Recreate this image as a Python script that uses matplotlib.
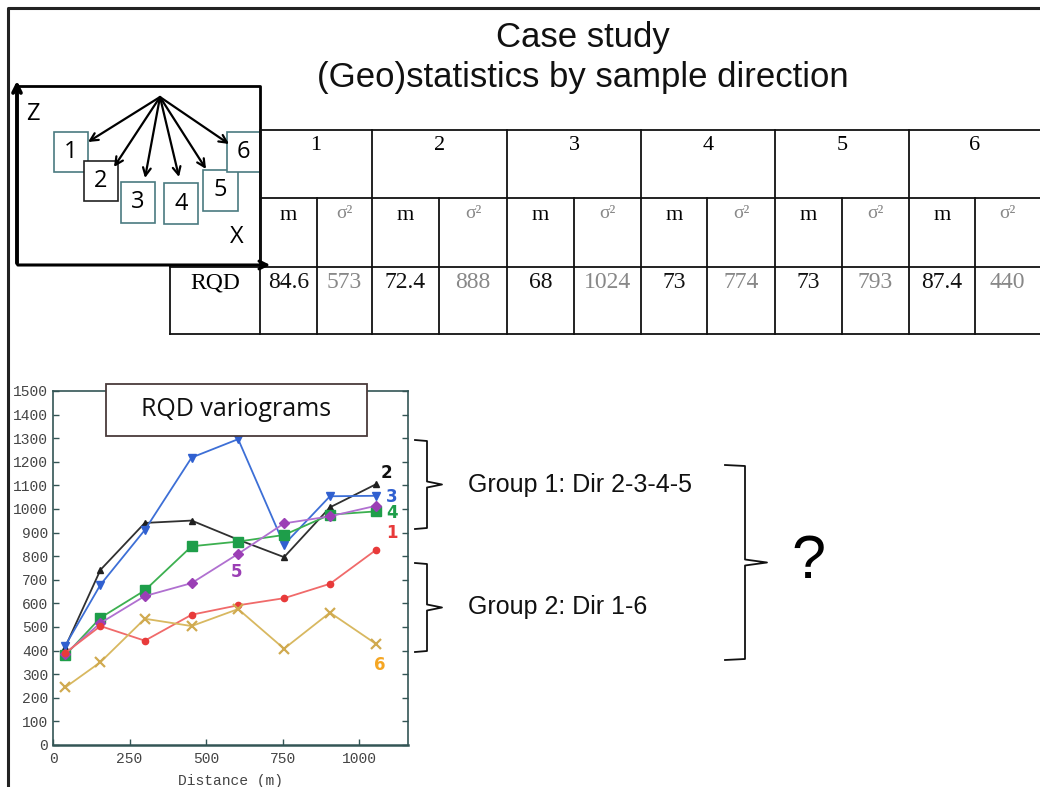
import matplotlib
matplotlib.use("Agg")
import matplotlib.pyplot as plt
from matplotlib.patches import Rectangle

# ---------------- data ----------------
distance = [40, 155, 300, 453, 605, 755, 905, 1057]
dir1 = [390, 504, 442, 552, 592, 622, 683, 828]
dir2 = [415, 742, 941, 951, 870, 796, 1007, 1106]
dir3 = [421, 679, 911, 1218, 1296, 849, 1054, 1056]
dir4 = [380, 539, 655, 842, 862, 890, 976, 990]
dir5 = [387, 517, 631, 686, 810, 939, 969, 1014]
dir6 = [244, 351, 535, 504, 576, 408, 561, 427]

directions = ['1', '2', '3', '4', '5', '6']
rqd_mean = ['84.6', '72.4', '68', '73', '73', '87.4']
rqd_var = ['573', '888', '1024', '774', '793', '440']

y_ticks = list(range(0, 1600, 100))
x_ticks = [0, 250, 500, 750, 1000]

W, H = 1040, 787
fig = plt.figure(figsize=(W / 100, H / 100), dpi=100)
fig.patch.set_facecolor('white')

# ---------------- variogram chart ----------------
L, R, T, B = 53, 408, 391, 745
ax = fig.add_axes([L / W, 1 - B / H, (R - L) / W, (B - T) / H])
ax.set_xlim(0, 1160)
ax.set_ylim(0, 1500)

series = [
    (dir2, '#303030', '#202020', '^', 4.5),
    (dir3, '#3d6fd6', '#3060d0', 'v', 5.5),
    (dir4, '#3cb050', '#1e9e4a', 's', 7.5),
    (dir5, '#b070d0', '#9b3fb5', 'D', 5.5),
    (dir1, '#f06a6a', '#e83a3a', 'o', 4.5),
    (dir6, '#d8b860', '#d0aa50', 'x', 7),
]
for vals, lc, mc, mk, ms in series:
    ax.plot(distance, vals, color=lc, lw=1.3, marker=mk, ms=ms,
            markerfacecolor=mc, markeredgecolor=mc, mew=1.6 if mk == 'x' else 1)

lab_kw = dict(fontsize=12, fontweight='bold', ha='center', va='center')
ax.text(1088, 1152, '2', color='#111111', **lab_kw)
ax.text(1107, 1051, '3', color='#3060d0', **lab_kw)
ax.text(1107, 983, '4', color='#1e9e4a', **lab_kw)
ax.text(1107, 898, '1', color='#e83a3a', **lab_kw)
ax.text(598, 733, '5', color='#9b3fb5', **lab_kw)
ax.text(1069, 339, '6', color='#f5a623', **lab_kw)

ax.set_xticks(x_ticks)
ax.set_yticks(y_ticks)
ax.tick_params(direction='in', length=4, width=1, colors='#335555',
               labelcolor='#444444', right=True, top=False, labelsize=10.5)
ax.tick_params(axis='x', pad=5)
for lab in ax.get_xticklabels() + ax.get_yticklabels():
    lab.set_family('Liberation Mono')
ax.set_xlabel('Distance (m)', family='Liberation Mono', fontsize=10.5,
              color='#444444', labelpad=6)
for s in ax.spines.values():
    s.set_color('#335555')
    s.set_linewidth(1.2)
ax.spines['bottom'].set_linewidth(1.8)

# ---------------- overlay in pixel coords ----------------
ov = fig.add_axes([0, 0, 1, 1], zorder=10)
ov.set_xlim(0, W)
ov.set_ylim(H, 0)
ov.axis('off')
ov.patch.set_alpha(0)

# slide border
ov.plot([8, 8, W], [H, 8, 8], color='#222222', lw=2.2, solid_capstyle='butt')

# title
ov.text(583, 38, 'Case study', fontsize=25, family='Liberation Sans',
        ha='center', va='center', color='#111111')
ov.text(583, 78, '(Geo)statistics by sample direction', fontsize=25,
        family='Liberation Sans', ha='center', va='center', color='#111111')

# diagram frame and axes arrows
ov.plot([17, 260, 260], [86, 86, 265], color='black', lw=2)
ov.annotate('', xy=(17, 78), xytext=(17, 266),
            arrowprops=dict(arrowstyle='->', lw=2.8, color='black', mutation_scale=14))
ov.annotate('', xy=(273, 265), xytext=(15, 265),
            arrowprops=dict(arrowstyle='->', lw=2.2, color='black', mutation_scale=14))
ov.text(33, 114, 'Z', fontsize=17, family='Open Sans', ha='center', va='center')
ov.text(237, 237, 'X', fontsize=17, family='Open Sans', ha='center', va='center')

boxes = [(54, 132, 34, 40, '#4a7a80'), (84, 161, 34, 40, '#222222'),
         (121, 182, 34, 41, '#4a7a80'), (164, 183, 34, 41, '#4a7a80'),
         (203, 170, 35, 41, '#4a7a80'), (227, 132, 33, 40, '#4a7a80')]
for (bx, by, bw, bh, ec), d in zip(boxes, directions):
    ov.add_patch(Rectangle((bx, by), bw, bh, fill=True, facecolor='white',
                           edgecolor=ec, lw=1.2))
    ov.text(bx + bw / 2, by + bh / 2, d, fontsize=17, family='Open Sans',
            ha='center', va='center')
origin = (160, 97)
tips = [(88, 142), (114, 167), (145, 178), (179, 177), (206, 169), (229, 144)]
for tip in tips:
    ov.annotate('', xy=tip, xytext=origin,
                arrowprops=dict(arrowstyle='->', lw=1.6, color='black',
                                mutation_scale=14, shrinkA=0, shrinkB=0))

# table
tl = dict(color='#111111', lw=1.3)
ov.plot([260, W], [130, 130], **tl)
ov.plot([260, W], [198, 198], **tl)
ov.plot([170, W], [267, 267], **tl)
ov.plot([170, W], [334, 334], **tl)
ov.plot([170, 170], [267, 334], **tl)
groups = [260, 372, 507, 641, 775, 909]
subs = [317, 439, 574, 707, 842, 975]
for gx in groups:
    ov.plot([gx, gx], [130, 334], **tl)
for sx in subs:
    ov.plot([sx, sx], [198, 334], **tl)
edges = groups + [W]
serif = 'Liberation Serif'
ov.text(215, 283, 'RQD', fontsize=17, family=serif, ha='center', va='center')
for i, d in enumerate(directions):
    g0, g1, sx = edges[i], edges[i + 1], subs[i]
    ov.text((g0 + g1) / 2, 145, d, fontsize=16, family=serif, ha='center', va='center')
    ov.text((g0 + sx) / 2, 215, 'm', fontsize=16, family=serif, ha='center', va='center')
    ov.text((sx + g1) / 2, 214, 'σ²', fontsize=14, family=serif, ha='center',
            va='center', color='#888888')
    ov.text((g0 + sx) / 2, 282, rqd_mean[i], fontsize=17, family=serif,
            ha='center', va='center', color='#111111')
    ov.text((sx + g1) / 2, 282, rqd_var[i], fontsize=17, family=serif,
            ha='center', va='center', color='#888888')

# title box of chart
ov.add_patch(Rectangle((106, 384), 261, 52, facecolor='white', edgecolor='#4a3a3a', lw=1.3))
ov.text(236, 410, 'RQD variograms', fontsize=18, family='Open Sans',
        ha='center', va='center', color='#111111')

# brackets
def bracket(x, y0, y1, arm, tip):
    ym = (y0 + y1) / 2
    ov.plot([x - arm, x, x, x + tip, x, x, x - arm],
            [y0, y0 + 1, ym - 3, ym, ym + 3, y1 - 1, y1], color='#111111', lw=1.3)

bracket(427, 440, 529, 12, 15)
bracket(427, 563, 652, 12, 15)
bracket(745, 465, 660, 20, 22)

ov.text(468, 485, 'Group 1: Dir 2-3-4-5', fontsize=18, family='Liberation Sans',
        ha='left', va='center', color='#111111')
ov.text(468, 607, 'Group 2: Dir 1-6', fontsize=18, family='Liberation Sans',
        ha='left', va='center', color='#111111')
ov.text(808, 562, '?', fontsize=44, family='Liberation Sans', ha='center',
        va='center', color='black')

fig.savefig('out.png', dpi=100)
